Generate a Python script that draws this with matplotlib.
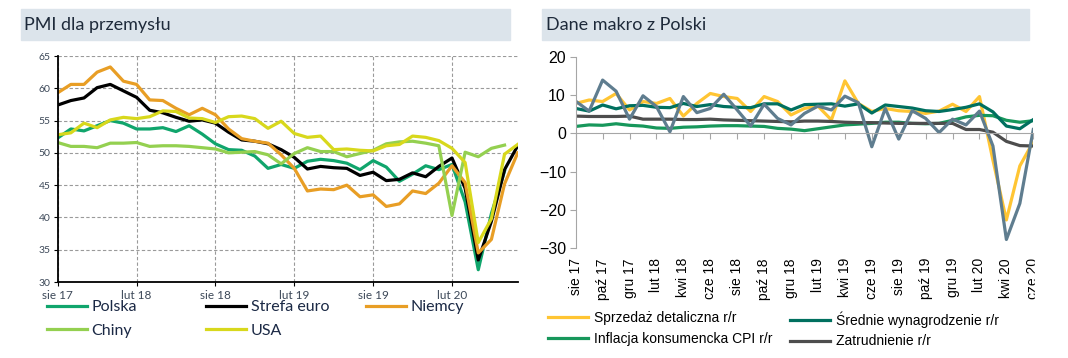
import matplotlib
matplotlib.use('Agg')
import matplotlib.pyplot as plt
from matplotlib.lines import Line2D
from matplotlib.patches import Rectangle

# ---------- PMI dla przemysłu (sie 17 - lip 20, monthly) ----------
pmi_ticks = [0, 6, 12, 18, 24, 30]
pmi_tick_labels = ['sie 17', 'lut 18', 'sie 18', 'lut 19', 'sie 19', 'lut 20']

polska = [52.3, 53.7, 53.4, 54.2, 55.0, 54.6, 53.7, 53.7, 53.9, 53.3, 54.2, 52.9,
          51.4, 50.5, 50.4, 49.5, 47.6, 48.2, 47.6, 48.7, 49.0, 48.8, 48.4, 47.4,
          48.8, 47.8, 45.6, 46.7, 48.0, 47.4, 48.2, 42.4, 31.9, 40.6, 47.2]
strefa_euro = [57.4, 58.1, 58.5, 60.1, 60.6, 59.6, 58.6, 56.6, 56.2, 55.5, 54.9, 55.1,
               54.6, 53.2, 52.0, 51.8, 51.4, 50.5, 49.3, 47.5, 47.9, 47.7, 47.6, 46.5,
               47.0, 45.7, 45.9, 46.9, 46.3, 47.9, 49.2, 44.5, 33.4, 39.4, 47.4, 51.1]
niemcy = [59.3, 60.6, 60.6, 62.5, 63.3, 61.1, 60.6, 58.2, 58.1, 56.9, 55.9, 56.9,
          55.9, 53.7, 52.2, 51.8, 51.5, 49.7, 47.6, 44.1, 44.4, 44.3, 45.0, 43.2,
          43.5, 41.7, 42.1, 44.1, 43.7, 45.3, 48.0, 45.4, 34.5, 36.6, 45.2, 50.0]
chiny = [51.6, 51.0, 51.0, 50.8, 51.5, 51.5, 51.6, 51.0, 51.1, 51.1, 51.0, 50.8,
         50.6, 50.0, 50.1, 50.2, 49.7, 48.3, 49.9, 50.8, 50.2, 50.2, 49.4, 49.9,
         50.4, 51.4, 51.7, 51.8, 51.5, 51.1, 40.3, 50.1, 49.4, 50.7, 51.2]
usa = [52.8, 53.1, 54.6, 53.9, 55.1, 55.5, 55.3, 55.6, 56.5, 56.4, 55.4, 55.3,
       54.7, 55.6, 55.7, 55.3, 53.8, 54.9, 53.0, 52.4, 52.6, 50.5, 50.6, 50.4,
       50.3, 51.1, 51.3, 52.6, 52.4, 51.9, 50.7, 48.5, 36.1, 39.8, 49.8, 51.3]

# ---------- Dane makro z Polski (sie 17 - cze 20, r/r) ----------
makro_tick_labels = ['sie 17', 'paź 17', 'gru 17', 'lut 18', 'kwi 18', 'cze 18',
                     'sie 18', 'paź 18', 'gru 18', 'lut 19', 'kwi 19', 'cze 19',
                     'sie 19', 'paź 19', 'gru 19', 'lut 20', 'kwi 20', 'cze 20']
sprzedaz = [7.8, 8.7, 8.3, 10.4, 6.1, 8.3, 7.8, 9.1, 4.5, 7.8, 10.4, 9.6,
            9.1, 5.7, 9.6, 8.3, 4.8, 6.5, 7.1, 3.5, 13.7, 7.8, 5.7, 6.5,
            5.9, 5.7, 5.2, 5.8, 7.6, 5.7, 9.6, -7.0, -22.6, -8.5, -2.2]
wynagrodzenie = [6.5, 5.8, 7.4, 6.4, 7.2, 7.3, 6.8, 6.7, 7.8, 7.0, 7.5, 7.0,
                 6.8, 6.7, 7.7, 7.7, 6.1, 7.5, 7.6, 7.7, 7.1, 7.7, 5.3, 7.4,
                 7.0, 6.6, 5.9, 5.7, 6.2, 6.8, 7.7, 5.6, 1.9, 1.2, 3.6]
inflacja = [1.8, 2.2, 2.1, 2.5, 2.1, 1.9, 1.4, 1.3, 1.6, 1.7, 1.9, 2.0,
            2.0, 1.9, 1.8, 1.3, 1.1, 0.7, 1.2, 1.7, 2.2, 2.4, 2.6, 2.9,
            2.9, 2.6, 2.5, 2.6, 3.4, 4.3, 4.7, 4.6, 3.4, 2.9, 3.3]
zatrudnienie = [4.5, 4.4, 4.4, 4.4, 4.5, 3.7, 3.7, 3.7, 3.6, 3.6, 3.7, 3.5,
                3.4, 3.3, 3.2, 3.1, 3.0, 3.2, 3.2, 3.1, 2.9, 2.8, 2.8, 2.7,
                2.6, 2.6, 2.6, 2.6, 2.6, 1.0, 1.0, 0.3, -2.1, -3.2, -3.3]
produkcja = [8.4, 5.8, 13.9, 11.0, 3.7, 9.8, 7.0, 0.4, 9.6, 5.4, 6.5, 10.2,
             6.1, 1.9, 7.6, 3.9, 2.2, 5.2, 7.1, 6.1, 9.7, 8.0, -3.5, 6.5,
             -1.5, 5.9, 3.9, 0.2, 3.7, 2.2, 5.8, -3.3, -27.7, -18.3, 1.0]

W, H = 1068, 358
fig = plt.figure(figsize=(W / 100, H / 100), dpi=100)

LEFT_FONT = 'Lato'
RIGHT_FONT = 'Liberation Sans'
band = '#dce4eb'

# title bands
fig.patches.append(Rectangle((20.7 / W, 1 - 40 / H), (510 - 20.7) / W, 30.7 / H,
                             transform=fig.transFigure, color=band, zorder=0))
fig.patches.append(Rectangle((542 / W, 1 - 40 / H), (1029 - 542) / W, 30.7 / H,
                             transform=fig.transFigure, color=band, zorder=0))
fig.text(24 / W, 1 - 25 / H, 'PMI dla przemysłu', va='center', ha='left',
         fontsize=13, family=LEFT_FONT, color='#1e2a3a')
fig.text(546 / W, 1 - 25 / H, 'Dane makro z Polski', va='center', ha='left',
         fontsize=13, family=LEFT_FONT, color='#1e2a3a')


def add_column_legend(handles, x, y_top, size, family, color, hl, tp, ls):
    fig.legend(handles=handles, loc='upper left',
               bbox_to_anchor=(x / W, 1 - y_top / H), bbox_transform=fig.transFigure,
               frameon=False, borderpad=0, borderaxespad=0, handlelength=hl,
               handletextpad=tp, labelspacing=ls,
               prop={'family': family, 'size': size}, labelcolor=color)


# ---------- left chart ----------
ax1 = fig.add_axes([57.7 / W, 1 - 282 / H, 460 / W, 226 / H])
c_pl, c_ez, c_de, c_cn, c_us = '#10a56c', '#000000', '#e89e25', '#94d050', '#d8d81c'
lw = 2.3
ax1.plot(range(len(polska)), polska, color=c_pl, lw=lw)
ax1.plot(range(len(strefa_euro)), strefa_euro, color=c_ez, lw=lw)
ax1.plot(range(len(niemcy)), niemcy, color=c_de, lw=lw)
ax1.plot(range(len(chiny)), chiny, color=c_cn, lw=lw)
ax1.plot(range(len(usa)), usa, color=c_us, lw=lw)
ax1.set_xlim(0, 35)
ax1.set_ylim(30, 65)
ax1.set_yticks(range(30, 66, 5))
ax1.set_xticks(pmi_ticks, pmi_tick_labels)
ax1.grid(True, ls=(0, (3, 2)), color='#9a9a9a', lw=0.8)
ax1.set_axisbelow(True)
for s in ['top', 'right']:
    ax1.spines[s].set_visible(False)
for s in ['left', 'bottom']:
    ax1.spines[s].set_linewidth(1.3)
ax1.tick_params(axis='both', length=3, width=0.8, labelcolor='#3c4858')
ax1.tick_params(axis='y', labelsize=7.5, pad=2)
ax1.tick_params(axis='x', labelsize=8.5, pad=3)
for lbl in ax1.get_xticklabels() + ax1.get_yticklabels():
    lbl.set_family(LEFT_FONT)

def h(c, label, w=2.3):
    return Line2D([], [], color=c, lw=w, label=label)

leg_kw = dict(size=11.5, family=LEFT_FONT, color='#1b2945', hl=2.5, tp=0.3, ls=0.6)
add_column_legend([h(c_pl, 'Polska'), h(c_cn, 'Chiny')], 47, 300, **leg_kw)
add_column_legend([h(c_ez, 'Strefa euro'), h(c_us, 'USA')], 206, 300, **leg_kw)
add_column_legend([h(c_de, 'Niemcy')], 366, 300, **leg_kw)

# ---------- right chart ----------
ax2 = fig.add_axes([575.7 / W, 1 - 248.3 / H, (1033.3 - 575.7) / W, (248.3 - 56.7) / H])
c_sp, c_wy, c_in, c_za, c_pr = '#ffc533', '#00705f', '#17975b', '#4d4d4d', '#5f7d8f'
ax2.plot(range(len(sprzedaz)), sprzedaz, color=c_sp, lw=lw)
ax2.plot(range(len(inflacja)), inflacja, color=c_in, lw=lw)
ax2.plot(range(len(zatrudnienie)), zatrudnienie, color=c_za, lw=lw)
ax2.plot(range(len(wynagrodzenie)), wynagrodzenie, color=c_wy, lw=lw)
ax2.plot(range(len(produkcja)), produkcja, color=c_pr, lw=lw)
ax2.set_xlim(0, 34)
ax2.set_ylim(-30, 20)
ax2.set_yticks(range(-30, 21, 10))
gray = '#a6a6a6'
for s in ['top', 'right']:
    ax2.spines[s].set_visible(False)
ax2.spines['left'].set_color(gray)
ax2.spines['bottom'].set_color(gray)
ax2.spines['bottom'].set_position(('data', 0))
mticks = list(range(0, 35, 2))
ax2.set_xticks(mticks)
ax2.tick_params(axis='x', length=4, color=gray, labelbottom=False)
ax2.tick_params(axis='y', length=4, color=gray, labelsize=11.5, pad=3)
for lbl in ax2.get_yticklabels():
    lbl.set_family(RIGHT_FONT)

sec = ax2.secondary_xaxis(0)
sec.set_xticks(mticks, makro_tick_labels)
sec.tick_params(length=0, pad=7, labelsize=10, labelrotation=90)
sec.spines['bottom'].set_visible(False)
for lbl in sec.get_xticklabels():
    lbl.set_family(RIGHT_FONT)

leg_kw2 = dict(size=10, family=RIGHT_FONT, color='#000000', hl=2.9, tp=0.4, ls=0.5)
add_column_legend([h(c_sp, 'Sprzedaż detaliczna r/r'),
                   h(c_in, 'Inflacja konsumencka CPI r/r')], 548, 311, **leg_kw2)
add_column_legend([h(c_wy, 'Średnie wynagrodzenie r/r'),
                   h(c_za, 'Zatrudnienie r/r')], 790, 311, **leg_kw2)

# the source image crops the last month label on the right edge
fig.patches.append(Rectangle((1035 / W, 0), (W - 1035) / W, 1 - 252 / H,
                             transform=fig.transFigure, color='white', zorder=10))

fig.savefig('out.png', dpi=100)
